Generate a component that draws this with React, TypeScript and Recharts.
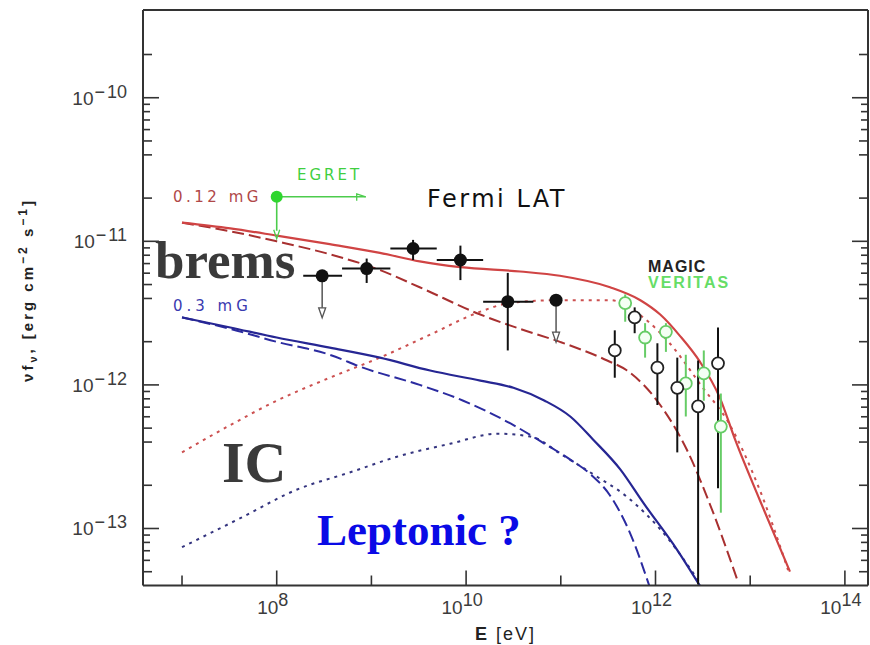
import React from 'react';
import { ComposedChart, Line, Scatter, XAxis, YAxis, ErrorBar } from 'recharts';

// every value is log10: E in eV, nuF_nu in erg cm^-2 s^-1
const xDomain = [6.588, 14.244];
const yDomain = [-13.397, -9.389];
const xTicks = [7, 8, 9, 10, 11, 12, 13, 14];
const xLabelled = [8, 10, 12, 14];
const yDecades = [-14, -13, -12, -11, -10];
const yLabelled = [-13, -12, -11, -10];
const yMinorMantissas = [2, 4, 5, 6, 7, 8, 9];

// model curves, 0.12 mG (red) and 0.3 mG (blue)
const redTotal = [
  [7.0, -10.87], [7.51, -10.91], [8.0, -10.96], [8.56, -11.02], [9.09, -11.08], [9.51, -11.14],
  [9.94, -11.18], [10.57, -11.21], [10.99, -11.24], [11.52, -11.32], [11.84, -11.41], [12.05, -11.51],
  [12.26, -11.66], [12.47, -11.84], [12.68, -12.09], [12.84, -12.38], [13.1, -12.8], [13.42, -13.3],
];
const redBrems = [
  [7.0, -10.87], [7.51, -10.93], [8.0, -11.0], [8.56, -11.09], [9.09, -11.2], [9.51, -11.32],
  [10.15, -11.51], [10.57, -11.61], [10.99, -11.7], [11.49, -11.83], [11.7, -11.9], [12.05, -12.14],
  [12.33, -12.45], [12.58, -12.84], [12.86, -13.35],
];
const redIC = [
  [7.0, -12.47], [7.51, -12.28], [8.0, -12.11], [8.56, -11.95], [9.09, -11.81], [9.62, -11.65],
  [10.15, -11.49], [10.46, -11.43], [10.99, -11.41], [11.52, -11.41], [11.87, -11.53], [12.15, -11.71],
  [12.5, -12.02], [12.76, -12.25], [13.1, -12.73], [13.4, -13.29],
];
const blueTotal = [
  [7.0, -11.53], [7.51, -11.6], [8.0, -11.67], [8.56, -11.74], [9.09, -11.81], [9.62, -11.9],
  [10.15, -11.97], [10.5, -12.02], [10.83, -12.11], [11.1, -12.22], [11.34, -12.38], [11.63, -12.59],
  [11.87, -12.82], [12.23, -13.15], [12.47, -13.4],
];
const blueBrems = [
  [7.0, -11.53], [7.51, -11.61], [8.0, -11.7], [8.56, -11.79], [8.91, -11.88], [9.51, -12.0],
  [9.97, -12.11], [10.5, -12.28], [10.83, -12.41], [11.1, -12.52], [11.31, -12.62], [11.52, -12.77],
  [11.73, -13.03], [11.94, -13.41],
];
const blueIC = [
  [7.0, -13.13], [7.61, -12.93], [8.21, -12.73], [8.77, -12.61], [9.27, -12.5], [9.83, -12.41],
  [10.33, -12.34], [10.68, -12.36], [11.02, -12.49], [11.36, -12.63], [11.7, -12.78], [12.12, -13.06],
  [12.47, -13.38],
];

// Fermi LAT
const fermiE = [8.48, 8.95, 9.44, 9.94, 10.44, 10.95];
const fermiF = [-11.24, -11.19, -11.05, -11.13, -11.42, -11.41];
const fermiELow = [8.28, 8.69, 9.2, 9.69, 10.18, 10.95];
const fermiEHigh = [8.69, 9.2, 9.69, 10.18, 10.71, 10.95];
const fermiFLow = [-11.24, -11.29, -11.13, -11.27, -11.76, -11.41];
const fermiFHigh = [-11.24, -11.12, -10.99, -11.03, -11.22, -11.41];
const fermiUpperLimit = [true, false, false, false, false, true];

// EGRET
const egretE = [8.0];
const egretF = [-10.69];

// MAGIC
const magicE = [11.57, 11.78, 12.02, 12.23, 12.45, 12.66];
const magicF = [-11.76, -11.53, -11.88, -12.02, -12.15, -11.85];
const magicFLow = [-11.95, -11.64, -12.14, -12.47, -13.39, -12.72];
const magicFHigh = [-11.62, -11.46, -11.71, -11.81, -11.83, -11.6];

// VERITAS
const veritasE = [11.68, 11.89, 12.11, 12.32, 12.51, 12.69];
const veritasF = [-11.43, -11.67, -11.63, -11.99, -11.92, -12.29];
const veritasFLow = [-11.56, -11.81, -11.77, -12.22, -12.11, -12.89];
const veritasFHigh = [-11.37, -11.57, -11.57, -11.79, -11.76, -12.06];

const toRows = (pts) => pts.map(([e, f]) => ({ e, f }));

const fermiRows = fermiE.map((e, i) => ({
  e,
  f: fermiF[i],
  ex: [e - fermiELow[i], fermiEHigh[i] - e],
  ey: [fermiF[i] - fermiFLow[i], fermiFHigh[i] - fermiF[i]],
}));
const fermiULRows = fermiRows.filter((_, i) => fermiUpperLimit[i]);
const egretRows = egretE.map((e, i) => ({ e, f: egretF[i] }));
const magicRows = magicE.map((e, i) => ({
  e, f: magicF[i], ey: [magicF[i] - magicFLow[i], magicFHigh[i] - magicF[i]],
}));
const veritasRows = veritasE.map((e, i) => ({
  e, f: veritasF[i], ey: [veritasF[i] - veritasFLow[i], veritasFHigh[i] - veritasF[i]],
}));

const yTicks = [];
yDecades.forEach((d) => {
  yTicks.push(d);
  yMinorMantissas.forEach((m) => yTicks.push(d + Math.log10(m)));
});
const yTicksInside = yTicks.filter((v) => v > yDomain[0] + 0.01 && v < yDomain[1] - 0.01);

const tickFont = '"Liberation Sans", Arial, sans-serif';
const frameColor = '#333';
const labelColor = '#3c3c3c';
const isInt = (v) => Math.abs(v - Math.round(v)) < 1e-6;

const BottomTick = ({ x, y, payload }) => {
  const v = payload.value;
  const lab = xLabelled.includes(v);
  return (
    <g>
      <line x1={x} y1={y} x2={x} y2={y - (lab ? 15 : 10)} stroke={frameColor} strokeWidth={1.6} />
      {lab && (
        <text x={x - 4} y={y + 28} textAnchor="middle" fontSize={19} fill={labelColor} fontFamily={tickFont}>
          10<tspan dy={-8} fontSize={18}>{v}</tspan>
        </text>
      )}
    </g>
  );
};

const TopTick = ({ x, y, payload }) => {
  const lab = xLabelled.includes(payload.value);
  return <line x1={x} y1={y} x2={x} y2={y + (lab ? 15 : 10)} stroke={frameColor} strokeWidth={1.6} />;
};

const LeftTick = ({ x, y, payload }) => {
  const v = payload.value;
  const major = isInt(v);
  const len = major ? 16 : (v - Math.floor(v) < 0.71 ? 9 : 7);
  return (
    <g>
      <line x1={x} y1={y} x2={x + len} y2={y} stroke={frameColor} strokeWidth={1.6} />
      {major && yLabelled.includes(Math.round(v)) && (
        <text x={x - 16} y={y + 7} textAnchor="end" fontSize={19} fill={labelColor} fontFamily={tickFont}>
          10<tspan dy={-7} dx={1} fontSize={18}>{'\u2212'}</tspan><tspan dx={2} fontSize={18}>{Math.abs(Math.round(v))}</tspan>
        </text>
      )}
    </g>
  );
};

const RightTick = ({ x, y, payload }) => {
  const v = payload.value;
  const major = isInt(v);
  const len = major ? 16 : (v - Math.floor(v) < 0.71 ? 9 : 7);
  return <line x1={x} y1={y} x2={x - len} y2={y} stroke={frameColor} strokeWidth={1.6} />;
};

const FilledDot = ({ cx, cy }) => <circle cx={cx} cy={cy} r={6.5} fill="#111" />;

const UpperArrow = ({ cx, cy }) => (
  <g>
    <line x1={cx} y1={cy + 6} x2={cx} y2={cy + 33} stroke="#555" strokeWidth={1.5} />
    <polygon points={`${cx - 3.5},${cy + 32} ${cx + 3.5},${cy + 32} ${cx},${cy + 42}`} fill="#fff" stroke="#555" strokeWidth={1.3} />
  </g>
);

const EgretMark = ({ cx, cy }) => (
  <g>
    <line x1={cx} y1={cy} x2={cx + 89} y2={cy} stroke="#4ccc4c" strokeWidth={1.6} />
    <path d={`M${cx + 80},${cy + 4} L${cx + 80},${cy - 3} L${cx + 89},${cy}`} fill="none" stroke="#4ccc4c" strokeWidth={1.3} />
    <line x1={cx} y1={cy} x2={cx} y2={cy + 34} stroke="#4ccc4c" strokeWidth={1.6} />
    <path d={`M${cx - 3},${cy + 33} L${cx},${cy + 42} L${cx + 3},${cy + 33}`} fill="none" stroke="#4ccc4c" strokeWidth={1.3} />
    <circle cx={cx} cy={cy} r={6} fill="#2fd62f" />
  </g>
);

const OpenDot = ({ cx, cy }) => <circle cx={cx} cy={cy} r={6} fill="#fff" stroke="#222" strokeWidth={1.8} />;
const OpenGreenDot = ({ cx, cy }) => <circle cx={cx} cy={cy} r={6} fill="#f4fff4" stroke="#66cc66" strokeWidth={1.8} />;

const annoFont = '"DejaVu Sans", sans-serif';
const serif = '"Liberation Serif", "Times New Roman", serif';

const App = () => {
  return (
    <div style={{ position: 'absolute', left: 0, top: 0, width: 870, height: 645, background: '#fff' }}>
      <ComposedChart width={870} height={645} margin={{ top: 9, right: 1, bottom: 58.5, left: 142 }}>
        <XAxis
          dataKey="e" type="number" domain={xDomain} allowDataOverflow ticks={xTicks} interval={0}
          height={1} tickSize={0} tickMargin={0} tickLine={false}
          axisLine={{ stroke: frameColor, strokeWidth: 2 }} tick={<BottomTick />}
        />
        <XAxis
          xAxisId="top" orientation="top" type="number" domain={xDomain} allowDataOverflow ticks={xTicks} interval={0}
          height={1} tickSize={0} tickMargin={0} tickLine={false}
          axisLine={{ stroke: frameColor, strokeWidth: 2 }} tick={<TopTick />}
        />
        <YAxis
          dataKey="f" type="number" domain={yDomain} allowDataOverflow ticks={yTicksInside} interval={0}
          width={1} tickSize={0} tickMargin={0} tickLine={false}
          axisLine={{ stroke: frameColor, strokeWidth: 2 }} tick={<LeftTick />}
        />
        <YAxis
          yAxisId="right" orientation="right" type="number" domain={yDomain} allowDataOverflow ticks={yTicksInside} interval={0}
          width={1} tickSize={0} tickMargin={0} tickLine={false}
          axisLine={{ stroke: frameColor, strokeWidth: 2 }} tick={<RightTick />}
        />

        <Line data={toRows(redIC)} dataKey="f" type="monotone" stroke="#cc5050" strokeWidth={2} strokeDasharray="3 5" dot={false} isAnimationActive={false} />
        <Line data={toRows(redBrems)} dataKey="f" type="monotone" stroke="#a83030" strokeWidth={2} strokeDasharray="12 5" dot={false} isAnimationActive={false} />
        <Line data={toRows(redTotal)} dataKey="f" type="monotone" stroke="#d04444" strokeWidth={2.2} dot={false} isAnimationActive={false} />
        <Line data={toRows(blueIC)} dataKey="f" type="monotone" stroke="#34347f" strokeWidth={2} strokeDasharray="3 5" dot={false} isAnimationActive={false} />
        <Line data={toRows(blueBrems)} dataKey="f" type="monotone" stroke="#2b2ba0" strokeWidth={2} strokeDasharray="12 5" dot={false} isAnimationActive={false} />
        <Line data={toRows(blueTotal)} dataKey="f" type="monotone" stroke="#262693" strokeWidth={2.2} dot={false} isAnimationActive={false} />

        <Scatter data={veritasRows} shape={<OpenGreenDot />} isAnimationActive={false}>
          <ErrorBar dataKey="ey" direction="y" width={0} stroke="#66cc66" strokeWidth={2} isAnimationActive={false} />
        </Scatter>
        <Scatter data={magicRows} shape={<OpenDot />} isAnimationActive={false}>
          <ErrorBar dataKey="ey" direction="y" width={0} stroke="#111" strokeWidth={2} isAnimationActive={false} />
        </Scatter>
        <Scatter data={fermiULRows} shape={<UpperArrow />} isAnimationActive={false} />
        <Scatter data={fermiRows} shape={<FilledDot />} isAnimationActive={false}>
          <ErrorBar dataKey="ex" direction="x" width={0} stroke="#111" strokeWidth={2} isAnimationActive={false} />
          <ErrorBar dataKey="ey" direction="y" width={0} stroke="#111" strokeWidth={2} isAnimationActive={false} />
        </Scatter>
        <Scatter data={egretRows} shape={<EgretMark />} isAnimationActive={false} />
      </ComposedChart>

      <svg width={870} height={645} style={{ position: 'absolute', left: 0, top: 0, pointerEvents: 'none' }}>
        <text transform="translate(33,290) rotate(-90)" textAnchor="middle" fontSize={15} fontWeight="bold" fill="#222" fontFamily={tickFont} letterSpacing={3}>
          {'\u03bd'}f<tspan dy={4} fontSize={11}>{'\u03bd'}</tspan><tspan dy={-4}>{', [erg cm'}</tspan>
          <tspan dy={-6} fontSize={12}>{'\u22122'}</tspan><tspan dy={6}>{' s'}</tspan>
          <tspan dy={-6} fontSize={12}>{'\u22121'}</tspan><tspan dy={6}>]</tspan>
        </text>
        <text x={475} y={640} fontSize={18} fill="#222" fontFamily={tickFont} letterSpacing={2}>
          <tspan fontWeight="bold">E</tspan> [eV]
        </text>

        <text x={297} y={180} fontSize={15} fill="#3fcf3f" fontFamily={annoFont} letterSpacing={3}>EGRET</text>
        <text x={173} y={202} fontSize={15} fill="#b04848" fontFamily={annoFont} letterSpacing={3.5}>0.12 mG</text>
        <text x={427} y={207} fontSize={24} fill="#111" fontFamily={annoFont} letterSpacing={2.5}>Fermi LAT</text>
        <text x={155} y={278} fontSize={53} fontWeight="bold" fill="#3a3a3a" fontFamily={serif}>brems</text>
        <text x={173} y={311} fontSize={15} fill="#3a3ab0" fontFamily={annoFont} letterSpacing={4}>0.3 mG</text>
        <text x={648} y={272} fontSize={16} fontWeight="bold" fill="#222" fontFamily={tickFont} letterSpacing={1}>MAGIC</text>
        <text x={648} y={288} fontSize={16} fontWeight="bold" fill="#66dd66" fontFamily={tickFont} letterSpacing={2}>VERITAS</text>
        <text x={222} y={482} fontSize={58} fontWeight="bold" fill="#3a3a3a" fontFamily={serif}>IC</text>
        <text x={317} y={545} fontSize={45} fontWeight="bold" fill="#0a0ae6" fontFamily={serif}>Leptonic ?</text>
      </svg>
    </div>
  );
};

export default App;
